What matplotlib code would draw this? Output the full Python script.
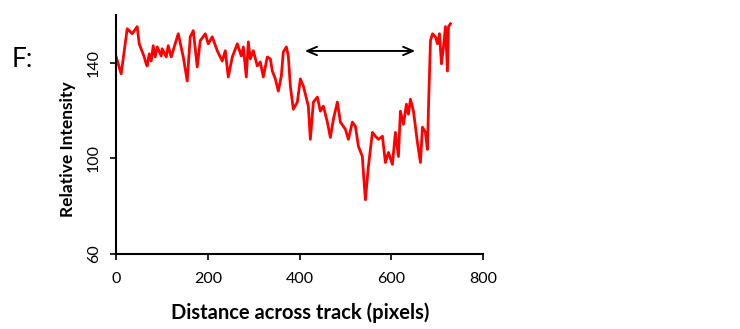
import matplotlib
matplotlib.use("Agg")
import matplotlib.pyplot as plt

plt.rcParams['font.family'] = ['Lato', 'DejaVu Sans']

# profile (distance in pixels, relative intensity)
distance = [0, 10.9, 24.0, 28.4, 34.9, 45.8, 50.2, 61.1, 65.4, 67.6, 72.0, 76.4,
            80.7, 85.1, 89.4, 98.2, 100.3, 109.1, 113.4, 120.0, 126.5, 135.3,
            146.2, 154.9, 161.4, 168.0, 176.7, 183.2, 194.2, 200.7, 209.4,
            220.3, 231.2, 237.8, 244.3, 253.1, 264.0, 272.7, 277.1, 283.6,
            288.0, 292.3, 298.9, 307.6, 314.1, 320.7, 329.4, 336.0, 340.3,
            346.9, 353.4, 359.9, 364.3, 370.9, 375.2, 379.6, 386.1, 394.9,
            401.4, 408.0, 418.8, 423.2, 429.8, 438.5, 445.0, 451.6, 460.3,
            466.8, 473.4, 482.1, 488.7, 499.6, 506.1, 514.8, 521.4, 527.9,
            536.6, 538.8, 543.2, 549.7, 558.5, 565.0, 571.6, 580.3, 586.8,
            593.4, 602.1, 608.6, 615.2, 619.5, 626.1, 632.6, 637.0, 641.4,
            647.9, 656.6, 663.2, 667.5, 674.1, 678.4, 680.6, 685.0, 689.4,
            695.9, 700.3, 704.6, 709.0, 713.4, 717.7, 722.1, 724.3, 728.6]
intensity = [142.5, 135.4, 154.3, 153.5, 152.2, 155.2, 148.0, 142.5, 139.6, 138.7,
             143.8, 140.8, 147.2, 142.5, 146.7, 142.9, 145.9, 142.5, 147.2, 142.5,
             146.7, 152.2, 142.5, 132.4, 150.9, 153.5, 138.3, 149.3, 152.2, 148.0,
             150.9, 145.1, 140.8, 145.1, 134.1, 142.5, 148.0, 142.9, 146.7, 134.1,
             148.8, 141.7, 145.1, 138.7, 140.4, 134.1, 142.5, 141.7, 136.6, 133.3,
             128.2, 134.5, 144.6, 146.7, 142.9, 130.3, 120.6, 123.6, 133.3, 130.3,
             121.9, 108.0, 123.6, 125.7, 119.8, 121.9, 115.2, 108.8, 116.4, 123.6,
             115.2, 112.2, 108.0, 115.2, 113.5, 105.1, 100.8, 94.1, 82.7, 96.6,
             110.9, 109.3, 108.0, 109.3, 98.3, 102.5, 97.5, 110.9, 100.8, 119.8,
             114.3, 122.7, 118.5, 124.8, 119.8, 106.7, 98.3, 113.1, 110.9, 103.8,
             120.6, 149.3, 152.2, 150.9, 148.0, 152.2, 139.6, 146.7, 155.2, 136.6,
             155.2, 156.4]

x_ticks = [0, 200, 400, 600, 800]
y_ticks = [60, 100, 140]
arrow_span = [405, 658]
arrow_level = 145

fig = plt.figure(figsize=(7.4, 3.29), dpi=100)
ax = fig.add_axes([0.157, 0.228, 0.496, 0.726])

ax.plot(distance, intensity, color='#ff0000', lw=2.0)

# double headed arrow over the dip
ax.annotate('', xy=(arrow_span[1], arrow_level), xytext=(arrow_span[0], arrow_level),
            arrowprops=dict(arrowstyle='<->,head_length=0.7,head_width=0.3',
                            color='black', lw=1.4))

ax.set_xlim(0, 800)
ax.set_ylim(60, 160)
ax.set_xticks(x_ticks)
ax.set_yticks(y_ticks)
ax.tick_params(axis='both', direction='out', length=4, width=1.2, labelsize=11.5,
               colors='black', pad=5)
ax.tick_params(axis='x', pad=9)
ax.tick_params(axis='y', labelrotation=90, pad=7)
for lbl in ax.get_yticklabels():
    lbl.set_va('center')

for s in ['top', 'right']:
    ax.spines[s].set_visible(False)
for s in ['left', 'bottom']:
    ax.spines[s].set_linewidth(1.5)

ax.set_xlabel('Distance across track (pixels)', fontsize=14.5, fontweight='bold', labelpad=12)
ax.set_ylabel('Relative Intensity', fontsize=12.5, fontweight='bold')
ax.yaxis.set_label_coords(-0.11, 0.44)

fig.text(0.016, 0.82, 'F:', fontsize=19, va='center', ha='left')

fig.savefig('out.png', dpi=100)
